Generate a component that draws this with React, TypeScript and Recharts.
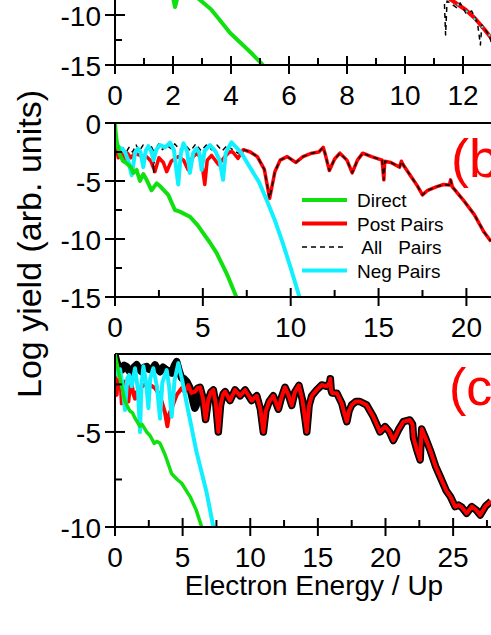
import { LineChart, Line, XAxis, YAxis, ReferenceLine } from "recharts";

type P = [number, number];

// ---- panel (a): only the lower part is visible ----
const directA: P[] = [
  [1.85, -7.2], [2.0, -8.3], [2.07, -9.2], [2.15, -8.3], [2.4, -7.6], [2.7, -7.9], [2.93, -8.5],
  [3.3, -9.4], [3.5, -10.1], [3.97, -11.8], [4.3, -12.7], [4.7, -13.8], [5.1, -15],
];
const postA: P[] = [
  [11.5, -8.3], [11.8, -8.9], [12.1, -9.5], [12.4, -10.3], [12.7, -11.3], [13, -12.4],
];
const allA: P[] = [
  [11.35, -8.0], [11.4, -12.0], [11.45, -8.6], [11.8, -9.3], [11.9, -8.8], [12.1, -9.8], [12.3, -9.6],
  [12.5, -10.8], [12.6, -13.0], [12.65, -11.0], [12.9, -12.0], [13, -13.0],
];
const negA: P[] = [[11.8, -8.9], [12.2, -9.8], [12.6, -11.0], [13, -12.3]];

// ---- panel (b) ----
const directB: P[] = [
  [0, 0], [0.05, -1.0], [0.1, -1.6], [0.28, -2.76], [0.47, -3.3], [0.6, -3.4], [0.76, -3.6], [0.9, -3.8],
  [1.04, -4.3], [1.23, -4.05], [1.42, -5.0], [1.61, -4.4], [1.8, -4.9], [2.08, -5.8], [2.37, -5.2],
  [2.6, -5.5], [3.03, -6.2], [3.41, -7.5], [3.69, -7.64], [4.26, -8.08], [4.7, -8.8], [5.02, -9.5],
  [5.4, -10.3], [5.78, -11.2], [6.35, -12.96], [6.91, -15],
];
const postB: P[] = [
  [0, -1.6], [0.19, -3.0], [0.38, -2.5], [0.5, -3.3], [0.7, -2.6], [0.9, -3.0], [1.14, -2.6], [1.42, -2.8],
  [1.8, -2.9], [2.05, -3.3], [2.27, -4.2], [2.5, -3.0], [2.75, -3.4], [2.94, -4.2], [3.2, -3.3], [3.6, -2.9],
  [3.9, -3.2], [4.17, -4.05], [4.4, -3.0], [4.64, -2.6], [4.9, -3.0], [5.11, -5.3], [5.25, -3.2], [5.5, -2.8],
  [5.9, -3.6], [6.2, -3.0], [6.53, -2.47], [6.7, -2.5], [7.0, -3.05], [7.3, -2.3], [7.7, -2.5], [8.1, -2.9],
  [8.5, -4.0], [8.8, -6.5], [9.1, -4.2], [9.4, -3.2], [9.8, -2.9], [10.3, -3.4], [10.7, -2.9], [11.2, -2.6],
  [11.6, -2.5], [11.85, -2.1], [11.95, -2.6], [12.2, -4.1], [12.5, -3.1], [12.8, -2.6], [13.2, -3.2],
  [13.5, -4.3], [13.8, -3.2], [14.1, -2.6], [14.6, -2.9], [15.2, -3.2], [15.3, -4.9], [15.35, -3.3],
  [15.7, -3.4], [16.2, -3.8], [16.3, -3.3], [16.4, -3.6], [16.8, -4.5], [17.2, -5.4], [17.5, -6.2],
  [17.8, -5.8], [18.28, -5.5], [18.7, -5.3], [19.03, -5.35], [19.1, -4.9], [19.2, -5.5], [19.8, -6.6],
  [20.45, -7.9], [21.0, -9.4], [21.4, -10.2],
];
const allEarlyB: P[] = [
  [0, -1.5], [0.2, -2.4], [0.4, -2.0], [0.6, -2.6], [0.8, -2.1], [1.0, -2.5], [1.2, -1.9], [1.4, -2.4],
  [1.6, -1.9], [1.8, -2.2], [2.0, -1.8], [2.15, -2.3], [2.2, -4.3], [2.25, -2.3], [2.5, -1.8], [2.7, -2.3],
  [2.9, -1.9], [3.2, -2.2], [3.4, -1.8], [3.7, -2.3], [4.0, -1.9], [4.3, -2.4], [4.6, -1.8], [4.9, -2.4],
  [5.2, -1.9], [5.5, -2.3], [5.8, -1.9], [6.1, -2.4], [6.4, -1.9], [6.6, -2.2], [6.8, -2.4], [7.0, -2.6],
];
const negB: P[] = [
  [0, -1.6], [0.1, -2.0], [0.38, -2.2], [0.57, -2.5], [0.76, -3.3], [0.95, -4.5], [1.14, -2.6], [1.3, -2.2],
  [1.45, -2.5], [1.61, -3.8], [1.75, -2.4], [1.9, -2.0], [2.05, -2.4], [2.2, -3.2], [2.35, -2.3], [2.56, -1.9],
  [2.85, -2.1], [3.13, -1.7], [3.35, -2.3], [3.6, -5.3], [3.75, -2.6], [3.9, -1.75], [4.1, -2.4], [4.26, -4.3],
  [4.45, -2.6], [4.64, -2.2], [4.8, -2.6], [4.93, -4.05], [5.1, -2.4], [5.4, -1.9], [5.7, -2.4], [5.95, -3.2],
  [6.15, -4.9], [6.3, -2.6], [6.63, -1.66], [7.2, -2.6], [7.67, -3.8], [8.2, -5.1], [8.62, -6.6], [9.1, -8.4],
  [9.56, -10.4], [10.0, -12.5], [10.5, -15],
];

// ---- panel (c) ----
const directC: P[] = [
  [0, -0.9], [0.2, -1.6], [0.37, -2.2], [0.74, -3.4], [1.1, -3.9], [1.3, -4.0], [1.5, -4.3], [1.85, -4.7],
  [2.0, -4.6], [2.34, -5.0], [2.6, -5.2], [2.9, -5.6], [3.1, -5.5], [3.33, -5.6], [3.7, -6.2], [4.19, -7.2],
  [4.6, -7.5], [4.93, -7.7], [5.55, -8.4], [6.0, -9.1], [6.41, -10],
];
const postC: P[] = [
  [0, -1.3], [0.06, -2.6], [0.12, -3.05], [0.2, -2.3], [0.3, -2.7], [0.4, -2.2], [0.5, -3.5], [0.62, -2.4],
  [0.74, -2.35], [0.87, -3.2], [0.99, -3.4], [1.1, -2.6], [1.23, -2.5], [1.36, -3.0], [1.48, -3.25],
  [1.6, -2.9], [1.73, -2.9], [1.85, -2.7], [2.1, -2.55], [2.34, -2.5], [2.65, -2.55], [2.96, -2.7],
  [3.2, -2.95], [3.45, -3.4], [3.7, -4.0], [3.87, -4.7], [4.0, -4.1], [4.19, -3.75], [4.56, -3.05],
  [4.93, -2.7], [5.15, -2.9], [5.42, -2.53], [5.65, -2.95], [5.92, -2.88], [6.1, -2.7], [6.29, -2.65],
  [6.5, -3.2], [6.7, -4.35], [6.9, -3.3], [7.1, -2.9], [7.27, -2.79], [7.45, -3.5], [7.64, -5.0], [7.8, -3.6],
  [8.0, -3.0], [8.14, -2.88], [8.5, -3.35], [8.88, -2.79], [9.25, -3.1], [9.62, -2.79], [10.1, -3.35],
  [10.48, -3.1], [10.75, -3.8], [10.97, -5.0], [11.15, -3.9], [11.4, -3.4], [11.7, -3.1], [12.08, -3.8],
  [12.3, -3.2], [12.57, -2.65], [12.85, -3.1], [13.07, -3.6], [13.3, -2.9], [13.6, -2.55], [13.85, -3.3],
  [14.05, -4.3], [14.18, -5.0], [14.35, -3.6], [14.55, -3.1], [14.9, -2.8], [15.29, -2.53], [15.66, -2.6],
  [15.88, -2.4], [15.92, -2.2], [15.98, -2.8], [16.05, -2.95], [16.4, -2.96], [16.77, -3.5], [16.95, -4.0],
  [17.14, -4.46], [17.3, -3.9], [17.5, -3.58], [17.8, -3.4], [18.1, -3.4], [18.6, -3.58], [19.1, -4.2],
  [19.6, -5.0], [19.97, -4.72], [20.3, -5.0], [20.58, -5.45], [20.95, -4.9], [21.32, -4.46], [21.8, -4.37],
  [22.0, -4.6], [22.07, -5.3], [22.3, -5.9], [22.56, -6.47], [22.62, -5.5], [22.68, -4.85], [23.0, -5.4],
  [23.3, -5.95], [23.7, -6.8], [24.04, -7.35], [24.5, -8.1], [24.8, -8.4], [25.15, -8.93], [25.4, -8.85],
  [25.64, -8.96], [26.0, -9.28], [26.38, -8.93], [26.7, -9.1], [27.0, -9.37], [27.4, -8.9], [27.8, -8.65],
];
const allEarlyC: P[] = [
  [0, -0.95], [0.12, -1.3], [0.3, -1.6], [0.5, -1.74], [0.68, -1.5], [0.86, -1.56], [1.05, -1.8],
  [1.23, -1.9], [1.4, -1.6], [1.6, -1.47], [1.8, -1.7], [1.97, -1.83], [2.15, -1.6], [2.34, -1.56],
  [2.5, -1.7], [2.71, -1.74], [2.96, -1.47], [3.15, -1.7], [3.33, -1.83], [3.55, -1.6], [3.82, -1.74],
  [4.0, -1.85], [4.19, -1.9], [4.4, -1.5], [4.56, -1.3], [4.75, -1.8], [4.93, -2.17], [5.1, -2.2],
  [5.3, -2.35], [5.55, -2.7], [5.8, -3.5], [5.9, -3.75], [6.0, -3.6], [6.1, -2.7],
];
const negC: P[] = [
  [0, -1.2], [0.2, -2.0], [0.37, -1.7], [0.55, -2.5], [0.74, -3.85], [0.9, -2.2], [1.05, -2.0], [1.23, -2.6],
  [1.48, -1.65], [1.7, -2.8], [1.85, -5.0], [1.95, -2.6], [2.1, -1.55], [2.3, -2.4], [2.47, -3.75],
  [2.6, -2.2], [2.83, -1.65], [3.1, -2.6], [3.33, -4.3], [3.5, -2.4], [3.82, -1.75], [4.0, -2.6],
  [4.19, -4.2], [4.4, -2.3], [4.68, -1.38], [5.0, -2.4], [5.3, -3.5], [6.04, -6.1], [6.78, -8.2], [7.27, -10],
];

const allB = [...allEarlyB, ...postB.filter((p) => p[0] > 7.1)];
const allC = [...allEarlyC, ...postC.filter((p) => p[0] > 6.15)];

const xTicksA = [0, 1, 2, 3, 4, 5, 6, 7, 8, 9, 10, 11, 12, 13];
const xTicksB = [0, 2.5, 5, 7.5, 10, 12.5, 15, 17.5, 20];
const xTicksC = [0, 2.5, 5, 7.5, 10, 12.5, 15, 17.5, 20, 22.5, 25, 27.5];
const yTicksA = [-15, -12.5, -10];
const yTicksB = [-15, -12.5, -10, -7.5, -5, -2.5, 0];
const yTicksC = [-10, -7.5, -5, -2.5];

const legendItems = ["Direct", "Post Pairs", " All   Pairs", "Neg Pairs"];

const GREEN = "#10e010";
const RED = "#ff0000";
const CYAN = "#10f0ff";
const FONT = "'Liberation Sans', Arial, sans-serif";

const toPts = (arr: P[]) => arr.map(([x, y]) => ({ x, y }));

const xTick = (step: number) => (props: any) => {
  const { x, y, payload } = props;
  const v = payload.value;
  const major = Math.abs(v / step - Math.round(v / step)) < 1e-6;
  return (
    <g>
      {major ? (
        <line x1={x} x2={x} y1={y - 9} y2={y + 9} stroke="#000" strokeWidth={2} />
      ) : (
        <line x1={x} x2={x} y1={y - 7} y2={y} stroke="#000" strokeWidth={2} />
      )}
      {major && (
        <text x={x} y={y + 40} textAnchor="middle" fontSize={28} fontFamily={FONT} fill="#000">
          {v}
        </text>
      )}
    </g>
  );
};

const yTick = (props: any) => {
  const { x, y, payload } = props;
  const v = payload.value;
  const major = Number.isInteger(v / 5);
  return (
    <g>
      {major ? (
        <line x1={x - 10} x2={x + 10} y1={y} y2={y} stroke="#000" strokeWidth={2} />
      ) : (
        <line x1={x} x2={x + 7} y1={y} y2={y} stroke="#000" strokeWidth={2} />
      )}
      {major && (
        <text x={x - 14} y={y + 11} textAnchor="end" fontSize={28} fontFamily={FONT} fill="#000">
          {v}
        </text>
      )}
    </g>
  );
};

type PanelProps = {
  top: number;
  plotH: number;
  width: number;
  xMax: number;
  yMin: number;
  yMax: number;
  xTicks: number[];
  xStep: number;
  yTicks: number[];
  frame: boolean;
  children: any;
};

// the chart's plot area starts 20px below `top`
function Panel({ top, plotH, width, xMax, yMin, yMax, xTicks, xStep, yTicks, frame, children }: PanelProps) {
  return (
    <div style={{ position: "absolute", left: 0, top }}>
      <LineChart width={width} height={plotH + 65} margin={{ top: 20, right: 0, left: 0, bottom: 0 }}>
        <XAxis
          type="number"
          dataKey="x"
          domain={[0, xMax]}
          ticks={xTicks}
          interval={0}
          allowDataOverflow
          height={45}
          tickSize={0}
          tickMargin={0}
          tickLine={false}
          axisLine={{ stroke: "#000", strokeWidth: 2 }}
          tick={xTick(xStep)}
        />
        <YAxis
          type="number"
          dataKey="y"
          domain={[yMin, yMax]}
          ticks={yTicks}
          interval={0}
          allowDataOverflow
          width={115}
          tickSize={0}
          tickMargin={0}
          tickLine={false}
          axisLine={{ stroke: "#000", strokeWidth: 2 }}
          tick={yTick}
        />
        {frame && <ReferenceLine y={yMax} stroke="#000" strokeWidth={2} />}
        {children}
      </LineChart>
    </div>
  );
}

const line = (key: string, data: P[], color: string, w: number, dash?: string) => (
  <Line
    key={key}
    data={toPts(data)}
    dataKey="y"
    type="linear"
    stroke={color}
    strokeWidth={w}
    strokeDasharray={dash}
    strokeLinejoin="round"
    dot={false}
    activeDot={false}
    isAnimationActive={false}
  />
);

export default function App() {
  return (
    <div
      style={{
        position: "absolute",
        left: 0,
        top: 0,
        width: 491,
        height: 635,
        overflow: "hidden",
        background: "#fff",
        fontFamily: FONT,
      }}
    >
      <Panel top={-105} plotH={150} width={492} xMax={13} yMin={-15} yMax={0}
        xTicks={xTicksA} xStep={2} yTicks={yTicksA} frame={false}>
        {line("ra", postA, RED, 4)}
        {line("ka", allA, "#000", 1.5, "5 4")}
        {line("ca", negA, CYAN, 2, "2 9")}
        {line("ga", directA, GREEN, 4)}
      </Panel>

      <Panel top={103} plotH={174} width={491} xMax={21.4} yMin={-15} yMax={0}
        xTicks={xTicksB} xStep={5} yTicks={yTicksB} frame={true}>
        {line("rb", postB, RED, 3.5)}
        {line("kb", allB, "#000", 1.5, "5 4")}
        {line("cb", negB, CYAN, 4)}
        {line("gb", directB, GREEN, 4)}
      </Panel>

      <Panel top={334} plotH={173} width={491} xMax={27.8} yMin={-10} yMax={-0.9}
        xTicks={xTicksC} xStep={5} yTicks={yTicksC} frame={true}>
        {line("kc", allC, "#000", 7.5)}
        {line("rc", postC, RED, 4)}
        {line("cc", negC, CYAN, 4)}
        {line("gc", directC, GREEN, 3.5)}
      </Panel>

      <svg width={491} height={635} style={{ position: "absolute", left: 0, top: 0, pointerEvents: "none" }}>
        {legendItems.map((name, i) => {
          const cy = 200 + i * 23.5;
          const color = [GREEN, RED, "#000", CYAN][i];
          return (
            <g key={name}>
              <line x1={302} x2={347} y1={cy} y2={cy} stroke={color}
                strokeWidth={i === 2 ? 1.5 : 4} strokeDasharray={i === 2 ? "5 4" : undefined} />
              <text x={357} y={cy + 7} fontSize={19} fontFamily={FONT} fill="#000" style={{ whiteSpace: "pre" }}>
                {name}
              </text>
            </g>
          );
        })}
        <text x={451} y={177} fontSize={54} fontFamily={FONT} fill={RED}>(b</text>
        <text x={449} y={405} fontSize={52} fontFamily={FONT} fill={RED}>(c</text>
        <text x={314} y={595} textAnchor="middle" fontSize={28} fontFamily={FONT} fill="#000">
          Electron Energy / Up
        </text>
        <text transform="translate(41,244) rotate(-90)" textAnchor="middle" fontSize={34} fontFamily={FONT} fill="#000">
          Log yield (arb. units)
        </text>
      </svg>
    </div>
  );
}
